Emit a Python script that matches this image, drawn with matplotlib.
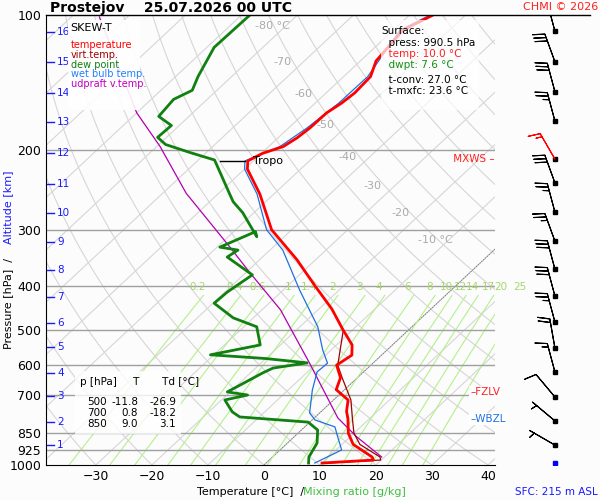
import numpy as np
import matplotlib
matplotlib.use("Agg")
import matplotlib.pyplot as plt
from matplotlib.lines import Line2D

SKEW = 86.0

# temperature profile
t_p = [990, 975, 960, 900, 850, 790, 760, 717, 680, 640, 600, 570, 541, 500, 450, 400,
       350, 300, 250, 220, 211, 203, 196, 187.5, 178, 165, 157, 149, 137, 126.5, 108, 100]
t_T = [10.0, 18.6, 17.8, 12.0, 9.0, 6.2, 4.5, 2.6, -1.5, -3.0, -6.1, -5.3, -7.2, -11.8, -17.7, -25.1,
       -33.3, -43.6, -52.5, -59.5, -61.0, -59.8, -57.4, -56.6, -56.2, -56.1, -55.3, -54.9, -55.2, -57.2, -58.3, -55.8]

# virtual temperature (differs only in the lower part)
tv_p = [990, 975, 960, 900, 850, 790, 717, 640, 600, 500]
tv_T = [10.8, 19.9, 19.2, 13.2, 10.0, 7.0, 3.1, -2.7, -5.9, -11.7]

# dew point
td_p = [990, 960, 894, 836, 803, 782, 762, 717, 699, 688, 624, 609, 593, 580, 569, 541, 493, 471,
        437, 413, 378, 345, 333, 328, 303, 311, 275, 260, 249, 210, 202, 194, 187, 176, 168, 154,
        147, 137, 118, 100]
td_T = [7.6, 6.5, 5.3, 2.9, -0.3, -13.5, -15.8, -19.4, -16.3, -20.5, -17.8, -16.9, -11.8, -20.0, -30.6,
        -23.6, -27.7, -33.6, -39.8, -39.6, -38.4, -46.3, -45.7, -49.5, -46.1, -44.9, -52.0, -55.8, -58.1,
        -67.1, -73.0, -78.8, -81.6, -81.4, -85.4, -86.0, -84.4, -86.0, -88.7, -88.5]

# wet bulb
tw_p = [990, 926, 866, 823, 794, 766, 681, 621, 594, 555, 493, 409, 333, 300, 250, 220, 211, 196,
        178, 157, 137, 108, 100]
tw_T = [8.7, 11.0, 7.8, 5.4, 0.5, -1.8, -5.7, -8.3, -8.1, -11.5, -16.8, -27.0, -37.7, -44.5, -53.0,
        -60.0, -61.5, -58.0, -56.7, -55.8, -55.7, -58.8, -56.3]

# updraft virtual temperature
tu_p = [960, 866, 786, 594, 452, 373, 328, 249, 196, 165, 101]
tu_T = [19.5, 11.2, 4.2, -11.3, -26.7, -39.4, -47.7, -65.8, -79.4, -90.0, -115.0]

p_ticks = [100, 200, 300, 400, 500, 600, 700, 850, 925, 1000]
alt_km = [1, 2, 3, 4, 5, 6, 7, 8, 9, 10, 11, 12, 13, 14, 15, 16]
alt_p = [903, 802, 703, 625, 547, 483, 423, 369, 319, 275, 237, 203, 173, 149, 127, 109]
mix_ratio = [0.2, 0.4, 0.6, 1, 1.4, 2, 3, 4, 6, 8, 10, 12, 14, 17, 20, 25]
iso_lab_T = [-10, -20, -30, -40, -50, -60, -70, -80]
iso_lab_p = [316, 275, 240, 207, 176, 150, 127, 106]

barb_p = [108.6, 127, 148, 172, 209, 236, 274, 318, 367, 421, 481, 549, 621, 706, 798, 903]
barb_spd = [25, 30, 30, 25, 15, 30, 25, 25, 30, 30, 25, 20, 15, 10, 5, 5]
barb_dir = [345, 340, 345, 345, 330, 340, 345, 340, 345, 345, 345, 350, 345, 320, 310, 300]


def sx(T, p):
    return np.asarray(T) + SKEW * np.log10(1000.0 / np.asarray(p, dtype=float))


fig = plt.figure(figsize=(6, 5), dpi=100)
fig.patch.set_facecolor("#fcfcfc")
ax = fig.add_axes([46 / 600, 35 / 500, 449 / 600, 450 / 500])
ax.set_facecolor("#fcfcfc")
ax.set_yscale("log")
ax.set_ylim(1000, 100)
ax.set_xlim(-38.9, 41.25)

pp = np.logspace(3, 2, 80)
for T0 in range(-160, 50, 10):
    ax.plot(sx(np.full_like(pp, T0), pp), pp, color="#d6d6d6", lw=0.8, zorder=1)
for th in range(-40, 260, 10):
    T = (th + 273.15) * (pp / 1000.0) ** 0.286 - 273.15
    ax.plot(sx(T, pp), pp, color="#d6d6d6", lw=0.8, zorder=1)
ax.plot(sx(np.zeros_like(pp), pp), pp, color="#777777", lw=0.6, ls=(0, (2, 1)), zorder=2)

pm = np.logspace(3, np.log10(420), 30)
for w in mix_ratio:
    e = w * pm / (622.0 + w)
    lg = np.log(e / 6.112)
    td = 243.5 * lg / (17.67 - lg)
    ax.plot(sx(td, pm), pm, color="#b4f08c", lw=0.8, zorder=2)
    ax.annotate(f"{w:g}", (sx(td[-1], 412), 412), xytext=(-7, 0), textcoords="offset points",
                color="#a6d86a", fontsize=7.5, ha="center", va="bottom", zorder=3,
                annotation_clip=False)

for p in p_ticks[1:-1]:
    ax.axhline(p, color="#a0a0a0", lw=1, zorder=2)

for T, p in zip(iso_lab_T, iso_lab_p):
    lab = f"{T} °C" if T in (-10, -80) else f"{T}"
    ax.annotate(lab, (sx(T, p), p), xytext=(-22, 0), textcoords="offset points",
                color="#aaaaaa", fontsize=8, ha="left", va="center", zorder=3)

ax.plot(sx(tu_T, tu_p), tu_p, color="#b000b0", lw=0.9, zorder=4)
ax.plot(sx(tw_T, tw_p), tw_p, color="#2070e0", lw=0.9, zorder=5)
ax.plot(sx(tv_T, tv_p), tv_p, color="#a00000", lw=0.9, zorder=5)
ax.plot(sx(td_T, td_p), td_p, color="#108010", lw=2, zorder=6)
ax.plot(sx(t_T, t_p), t_p, color="#ff0000", lw=2, zorder=6)

ax.plot([sx(-66, 211), sx(-61.5, 211)], [211, 211], color="black", lw=1, zorder=7)
ax.text(sx(-60, 211), 211, "Tropo", fontsize=8, va="center", zorder=7)

ax.set_yticks(p_ticks)
ax.set_yticklabels([str(p) for p in p_ticks], fontsize=9)
ax.yaxis.set_minor_locator(matplotlib.ticker.NullLocator())
ax.set_xticks(range(-30, 50, 10))
ax.tick_params(axis="x", labelsize=9, length=0)
ax.tick_params(axis="y", length=0)
for s in ("top", "right"):
    ax.spines[s].set_visible(False)

for km, p in zip(alt_km, alt_p):
    ax.plot([-38.7, -37.4], [p, p], color="#1a1aff", lw=1, zorder=8)
    ax.text(-36.9, p, str(km), color="#1a1aff", fontsize=7.5, va="center", zorder=8)

# legend box
ax.add_patch(plt.Rectangle((0.05, 0.79), 0.16, 0.2, transform=ax.transAxes, fc="white", ec="none",
                           alpha=0.9, zorder=8))
ax.text(0.055, 0.983, "SKEW-T", transform=ax.transAxes, fontsize=8, va="top", zorder=9)
for i, (lab, c) in enumerate([("temperature", "#ff0000"), ("virt.temp.", "#a00000"), ("dew point", "#108010"),
                              ("wet bulb temp.", "#2080ff"), ("udpraft v.temp.", "#c000c0")]):
    ax.text(0.055, 0.945 - i * 0.022, lab, transform=ax.transAxes, color=c, fontsize=7, va="top", zorder=9)

# surface box
ax.add_patch(plt.Rectangle((0.745, 0.79), 0.22, 0.2, transform=ax.transAxes, fc="white", ec="none",
                           alpha=0.7, zorder=8))
sfc = [("Surface:", "black", 0.975), ("  press: 990.5 hPa", "black", 0.95), ("  temp: 10.0 °C", "#ff2020", 0.925),
       ("  dwpt: 7.6 °C", "#109010", 0.9), ("  t-conv: 27.0 °C", "black", 0.867), ("  t-mxfc: 23.6 °C", "black", 0.843)]
for s, c, y in sfc:
    ax.text(0.748, y, s, transform=ax.transAxes, color=c, fontsize=7.5, va="top", zorder=9)

# table box
ax.add_patch(plt.Rectangle((0.065, 0.07), 0.235, 0.14, transform=ax.transAxes, fc="white", ec="none",
                           alpha=0.8, zorder=8))
ax.text(0.075, 0.195, "p [hPa]     T       Td [°C]", transform=ax.transAxes, fontsize=7.5, va="top", zorder=9)
for i, row in enumerate([("500", "-11.8", "-26.9"), ("700", "0.8", "-18.2"), ("850", "9.0", "3.1")]):
    y = 0.152 - i * 0.025
    ax.text(0.135, y, row[0], transform=ax.transAxes, fontsize=7.5, va="top", ha="right", zorder=9)
    ax.text(0.205, y, row[1], transform=ax.transAxes, fontsize=7.5, va="top", ha="right", zorder=9)
    ax.text(0.29, y, row[2], transform=ax.transAxes, fontsize=7.5, va="top", ha="right", zorder=9)

ax.text(1.0, 209, " MXWS –", transform=ax.get_yaxis_transform(), color="#ff2020", fontsize=7.5,
        ha="right", va="center", zorder=9)
ax.text(0.945, 688, "–FZLV", transform=ax.get_yaxis_transform(), color="#ff2020", fontsize=7.5,
        va="center", zorder=9, bbox=dict(fc="white", ec="none", pad=1))
ax.text(0.945, 790, "–WBZL", transform=ax.get_yaxis_transform(), color="#2070e0", fontsize=7.5,
        va="center", zorder=9, bbox=dict(fc="white", ec="none", pad=1))

# wind barbs
bx = fig.add_axes([518 / 600, 35 / 500, 82 / 600, 450 / 500])
bx.set_yscale("log")
bx.set_ylim(1000, 100)
bx.set_xlim(0, 1)
bx.axis("off")
rad = np.radians(barb_dir)
u = -np.array(barb_spd) * np.sin(rad)
v = -np.array(barb_spd) * np.cos(rad)
cols = ["red" if p == 209 else "black" for p in barb_p]
bx.barbs(np.full(len(barb_p), 0.45), barb_p, u, v, length=6.5, lw=0.8, color=cols, flip_barb=True, zorder=3)
bx.plot(np.full(len(barb_p), 0.45), barb_p, "s", ms=2.5, color="black")
bx.plot([0.45], [990], "s", ms=3, color="#0000ff")

fig.add_artist(Line2D([46 / 600, 590 / 600], [485 / 500, 485 / 500], color="black", lw=1))
fig.text(50 / 600, 1 - 8 / 500, "Prostejov    25.07.2026 00 UTC", fontsize=10, fontweight="bold", va="center")
fig.text(598 / 600, 1 - 7 / 500, "CHMI © 2026", color="#ff2020", fontsize=8, ha="right", va="center")
fig.text(598 / 600, 8 / 500, "SFC: 215 m ASL", color="#1a1aff", fontsize=7.5, ha="right", va="center")
fig.text(197 / 600, 8 / 500, "Temperature [°C]  /  ", fontsize=8, va="center")
fig.text(303 / 600, 8 / 500, "Mixing ratio [g/kg]", color="#40c040", fontsize=8, va="center")
fig.text(8 / 600, 200 / 500, "Pressure [hPa]  /  ", fontsize=8, rotation=90, ha="center", va="center")
fig.text(8 / 600, 293 / 500, "Altitude [km]", color="#1a1aff", fontsize=8, rotation=90, ha="center", va="center")

fig.savefig("out.png", dpi=100)
